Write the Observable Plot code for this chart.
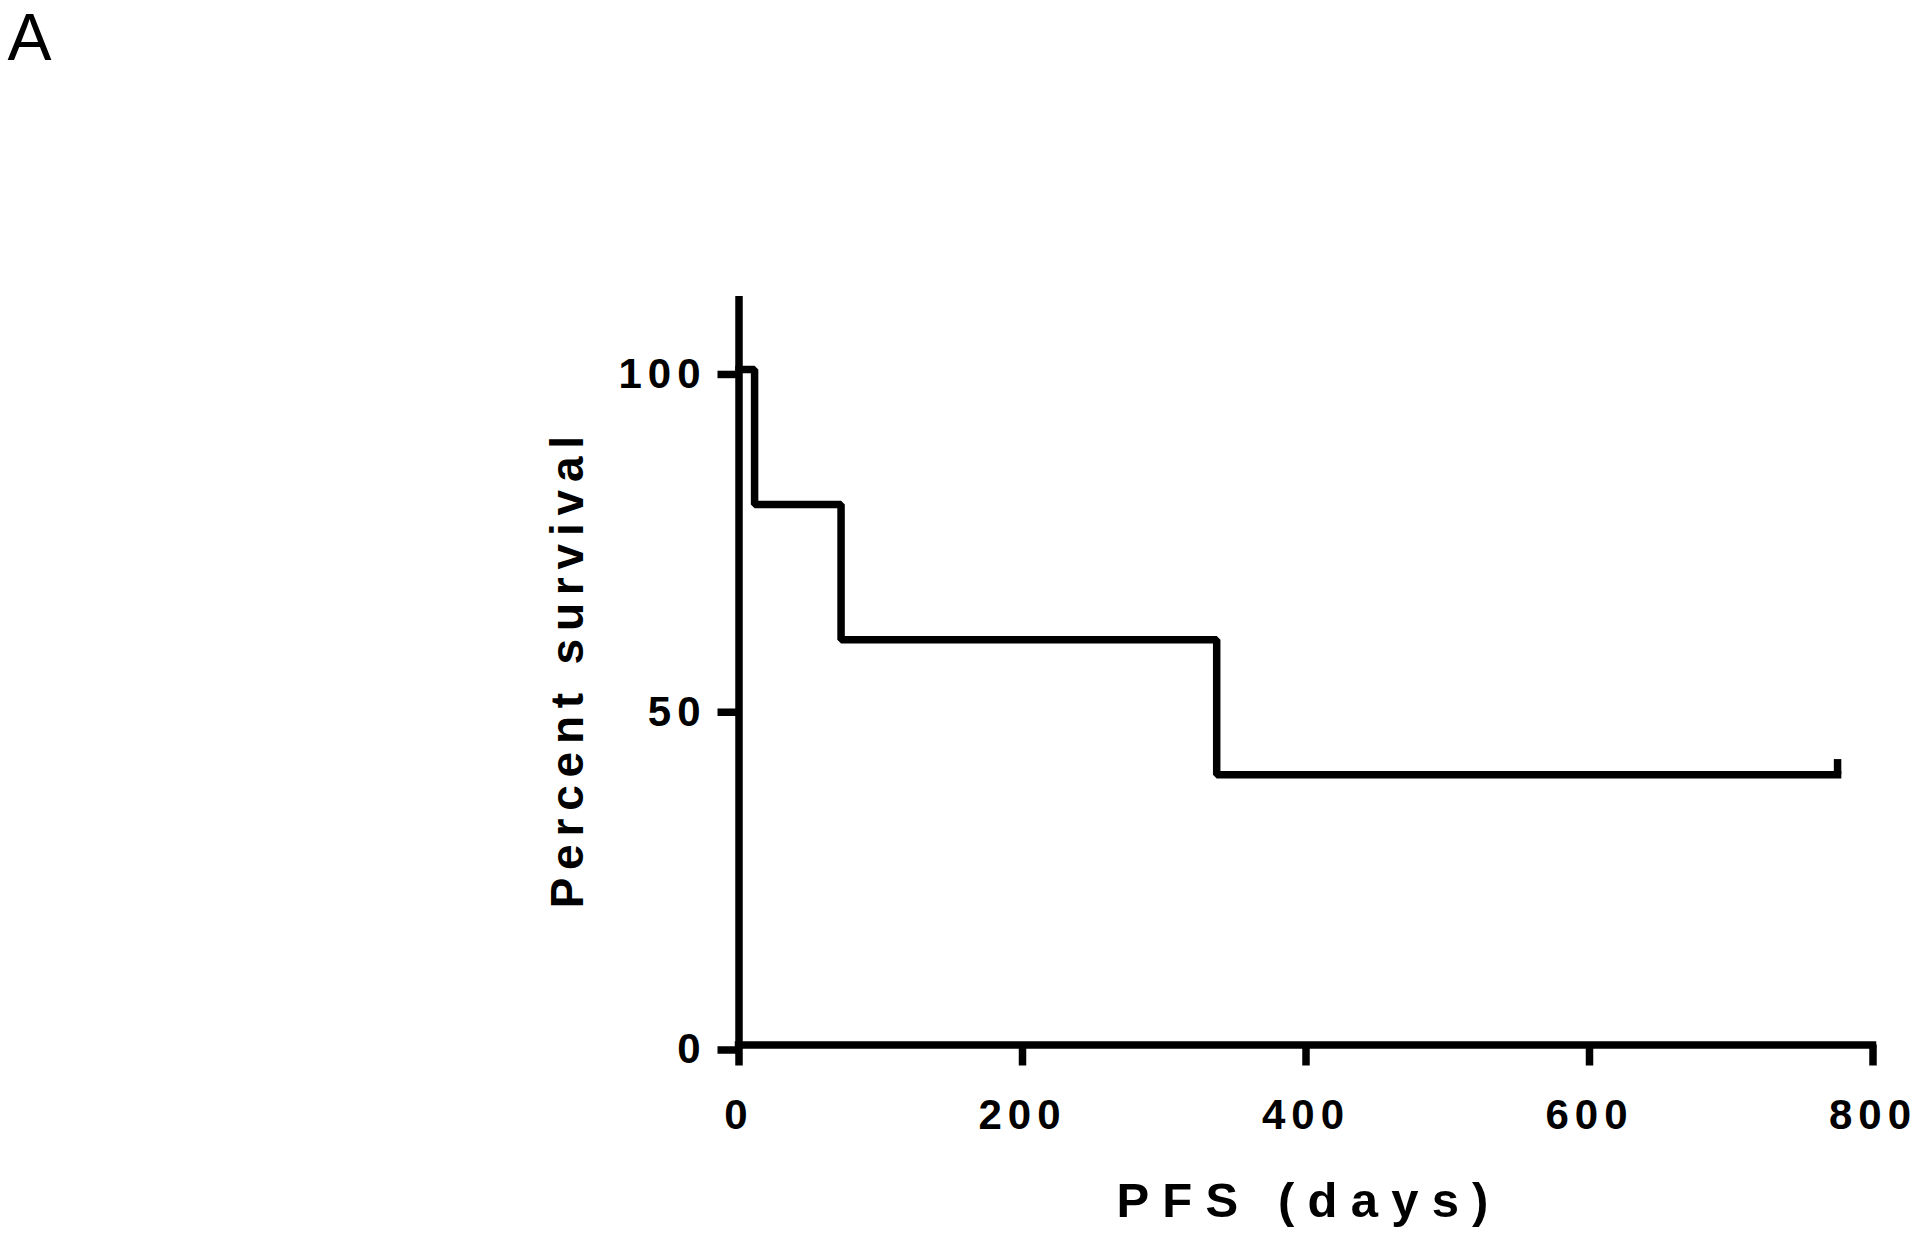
<!DOCTYPE html>
<html><head><meta charset="utf-8">
<script src="https://cdn.jsdelivr.net/npm/d3@7"></script>
<script src="https://cdn.jsdelivr.net/npm/@observablehq/plot@0.6"></script>
<style>html,body{margin:0;padding:0;background:#fff;} svg{display:block}</style>
</head><body><div id="chart"></div>
<script>
const days = [0, 11, 72, 337, 775];
const survival = [100, 80, 60, 40, 40];
const censorDays = [775];
const censorSurvival = [40];
const xTicks = [0, 200, 400, 600, 800];
const yTicks = [0, 50, 100];
const xTitle = "PFS (days)";
const yTitle = "Percent survival";
const panelLabel = "A";

const curve = days.map((d, i) => ({days: d, survival: survival[i]}));
const censor = censorDays.map((d, i) => ({days: d, survival: censorSurvival[i]}));
const font = "'Liberation Sans', Arial, Helvetica, sans-serif";
const censorTick = 2.25;

const chart = Plot.plot({
  width: 1920, height: 1241,
  marginLeft: 738.5, marginRight: 47.5, marginTop: 296, marginBottom: 196.5,
  style: {fontFamily: font, background: "#fff", color: "#000"},
  x: {domain: [0, 800], label: null},
  y: {domain: [0, 110.8], label: null},
  marks: [
    Plot.ruleY([0], {stroke: "#000", strokeWidth: 7.5, strokeLinecap: "square"}),
    Plot.ruleX([0], {stroke: "#000", strokeWidth: 7.5}),
    Plot.axisX({ticks: xTicks, tickSize: 21, tickPadding: 33, strokeWidth: 7.5, fontSize: 42, fontWeight: "bold", label: null}),
    Plot.axisY({ticks: yTicks, tickSize: 21, tickPadding: 11.5, strokeWidth: 7.5, fontSize: 42, fontWeight: "bold", dy: 5, label: null}),
    Plot.line(curve, {x: "days", y: "survival", curve: "step-after", stroke: "#000", strokeWidth: 7.5, strokeLinecap: "square", strokeLinejoin: "miter"}),
    Plot.ruleX(censor, {x: "days", y1: "survival", y2: d => d.survival + censorTick, stroke: "#000", strokeWidth: 7.5}),
    Plot.text([xTitle], {text: d => d, frameAnchor: "bottom", textAnchor: "middle", lineAnchor: "top", dy: 137.2, dx: 3, fontSize: 49, fontWeight: "bold"}),
    Plot.text([yTitle], {text: d => d, frameAnchor: "left", textAnchor: "middle", rotate: -90, lineAnchor: "top", dx: -188.5, dy: -2.5, fontSize: 46, fontWeight: "bold"}),
    Plot.text([panelLabel], {text: d => d, frameAnchor: "top-left", textAnchor: "start", lineAnchor: "top", dx: -731.5, dy: -283, fontSize: 66})
  ]
});
document.getElementById("chart").appendChild(chart);

const svg = d3.select(chart);
svg.selectAll('g[aria-label="x-axis tick label"] text, g[aria-label="y-axis tick label"] text').style("letter-spacing", "6px");
svg.selectAll("text").each(function() {
  const t = this.textContent;
  if (t === xTitle) d3.select(this).style("letter-spacing", "13.2px");
  if (t === yTitle) d3.select(this).style("letter-spacing", "7.8px");
});
</script>
</body></html>
